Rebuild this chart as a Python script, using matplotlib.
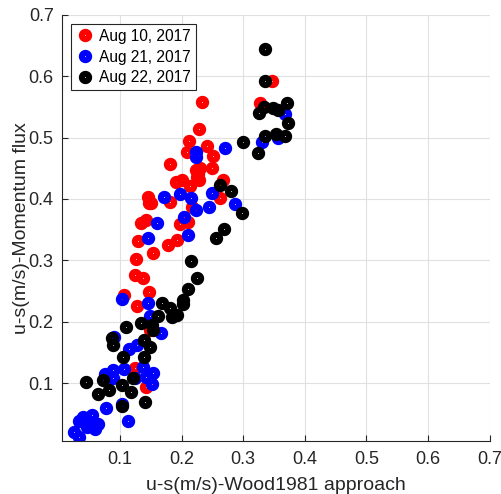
import matplotlib.pyplot as plt

plt.rcParams['font.family'] = ['Liberation Sans', 'DejaVu Sans']

# Aug 10, 2017
x_aug10 = [0.233, 0.228, 0.2115, 0.209, 0.241, 0.2505, 0.249, 0.230, 0.2255, 0.228,
           0.181, 0.191, 0.200, 0.2136, 0.181, 0.146, 0.147, 0.150, 0.267, 0.2623,
           0.2164, 0.134, 0.143, 0.1974, 0.211, 0.193, 0.178, 0.130, 0.154, 0.126,
           0.124, 0.137, 0.147, 0.107, 0.127, 0.149, 0.124, 0.142, 0.346, 0.327,
           0.224, 0.226]
y_aug10 = [0.558, 0.514, 0.494, 0.477, 0.487, 0.470, 0.451, 0.450, 0.436, 0.431,
           0.457, 0.428, 0.431, 0.421, 0.395, 0.404, 0.394, 0.393, 0.431, 0.401,
           0.387, 0.361, 0.366, 0.359, 0.363, 0.333, 0.325, 0.332, 0.312, 0.303,
           0.276, 0.271, 0.249, 0.243, 0.226, 0.186, 0.125, 0.094, 0.5925, 0.557,
           0.447, 0.440]

# Aug 21, 2017
x_aug21 = [0.223, 0.223, 0.2705, 0.172, 0.197, 0.2148, 0.223, 0.249, 0.2445, 0.2867,
           0.2044, 0.1596, 0.2099, 0.146, 0.103, 0.146, 0.149, 0.166, 0.091, 0.115,
           0.127, 0.138, 0.154, 0.1515, 0.143, 0.107, 0.089, 0.076, 0.089, 0.124,
           0.104, 0.078, 0.1125, 0.054, 0.040, 0.034, 0.065, 0.059, 0.047, 0.025,
           0.033, 0.051, 0.368, 0.330, 0.357]
y_aug21 = [0.477, 0.469, 0.483, 0.403, 0.408, 0.401, 0.382, 0.410, 0.387, 0.392,
           0.370, 0.361, 0.342, 0.336, 0.237, 0.231, 0.209, 0.182, 0.176, 0.155,
           0.162, 0.127, 0.116, 0.099, 0.110, 0.124, 0.121, 0.115, 0.108, 0.108,
           0.066, 0.059, 0.039, 0.048, 0.045, 0.039, 0.033, 0.025, 0.029, 0.021,
           0.012, 0.037, 0.538, 0.492, 0.499]

# Aug 22, 2017
x_aug22 = [0.335, 0.335, 0.333, 0.326, 0.349, 0.357, 0.371, 0.373, 0.335, 0.324,
           0.353, 0.368, 0.300, 0.2623, 0.280, 0.2976, 0.2688, 0.2554, 0.2148, 0.2245,
           0.211, 0.2018, 0.203, 0.169, 0.182, 0.193, 0.184, 0.162, 0.135, 0.1515,
           0.154, 0.110, 0.0865, 0.089, 0.139, 0.149, 0.139, 0.105, 0.045, 0.073,
           0.064, 0.083, 0.104, 0.1206, 0.118, 0.103, 0.141]
y_aug22 = [0.644, 0.5925, 0.549, 0.540, 0.548, 0.545, 0.556, 0.523, 0.502, 0.475,
           0.506, 0.502, 0.493, 0.423, 0.413, 0.377, 0.351, 0.337, 0.299, 0.272,
           0.253, 0.236, 0.229, 0.231, 0.223, 0.211, 0.208, 0.209, 0.198, 0.195,
           0.186, 0.191, 0.174, 0.162, 0.170, 0.159, 0.143, 0.143, 0.102, 0.105,
           0.082, 0.089, 0.097, 0.108, 0.086, 0.063, 0.070]

series = [(x_aug10, y_aug10, 'red', 'Aug 10, 2017'),
          (x_aug21, y_aug21, 'blue', 'Aug 21, 2017'),
          (x_aug22, y_aug22, 'black', 'Aug 22, 2017')]

fig = plt.figure(figsize=(5.02, 4.94), dpi=100)
ax = fig.add_axes([0.1235, 0.1073, 0.852, 0.863])

# anillos gruesos con un punto blanco al centro, como en el original
for xs, ys, col, lab in series:
    ax.plot(xs, ys, 'o', ls='none', mfc='none', mec=col, ms=5.2, mew=4.4, label=lab)

ax.set_xlim(0.006, 0.7)
ax.set_ylim(0.006, 0.7)
ax.set_xticks([0.1, 0.2, 0.3, 0.4, 0.5, 0.6, 0.7])
ax.set_yticks([0.1, 0.2, 0.3, 0.4, 0.5, 0.6, 0.7])
ax.grid(True, color='#e0e0e0', lw=0.8)
ax.set_axisbelow(True)
for s in ['top', 'right']:
    ax.spines[s].set_visible(False)
for s in ['left', 'bottom']:
    ax.spines[s].set_color('#262626')
ax.tick_params(direction='in', length=4, labelsize=13, colors='#262626')
ax.tick_params(axis='x', pad=7)
ax.tick_params(axis='y', pad=6)

ax.set_xlabel('u-s(m/s)-Wood1981 approach', fontsize=14, color='#262626')
ax.set_ylabel('u-s(m/s)-Momentum flux', fontsize=14, color='#262626')
ax.xaxis.set_label_coords(0.5, -0.084)
ax.yaxis.set_label_coords(-0.075, 0.5)

leg = ax.legend(loc='upper left', fontsize=11.2, fancybox=False, framealpha=1,
                edgecolor='#262626', handletextpad=0.3, borderpad=0.3,
                labelspacing=0.38, handlelength=1.2, borderaxespad=0.6)
leg.get_frame().set_linewidth(0.8)

fig.savefig('out.png', dpi=100)
